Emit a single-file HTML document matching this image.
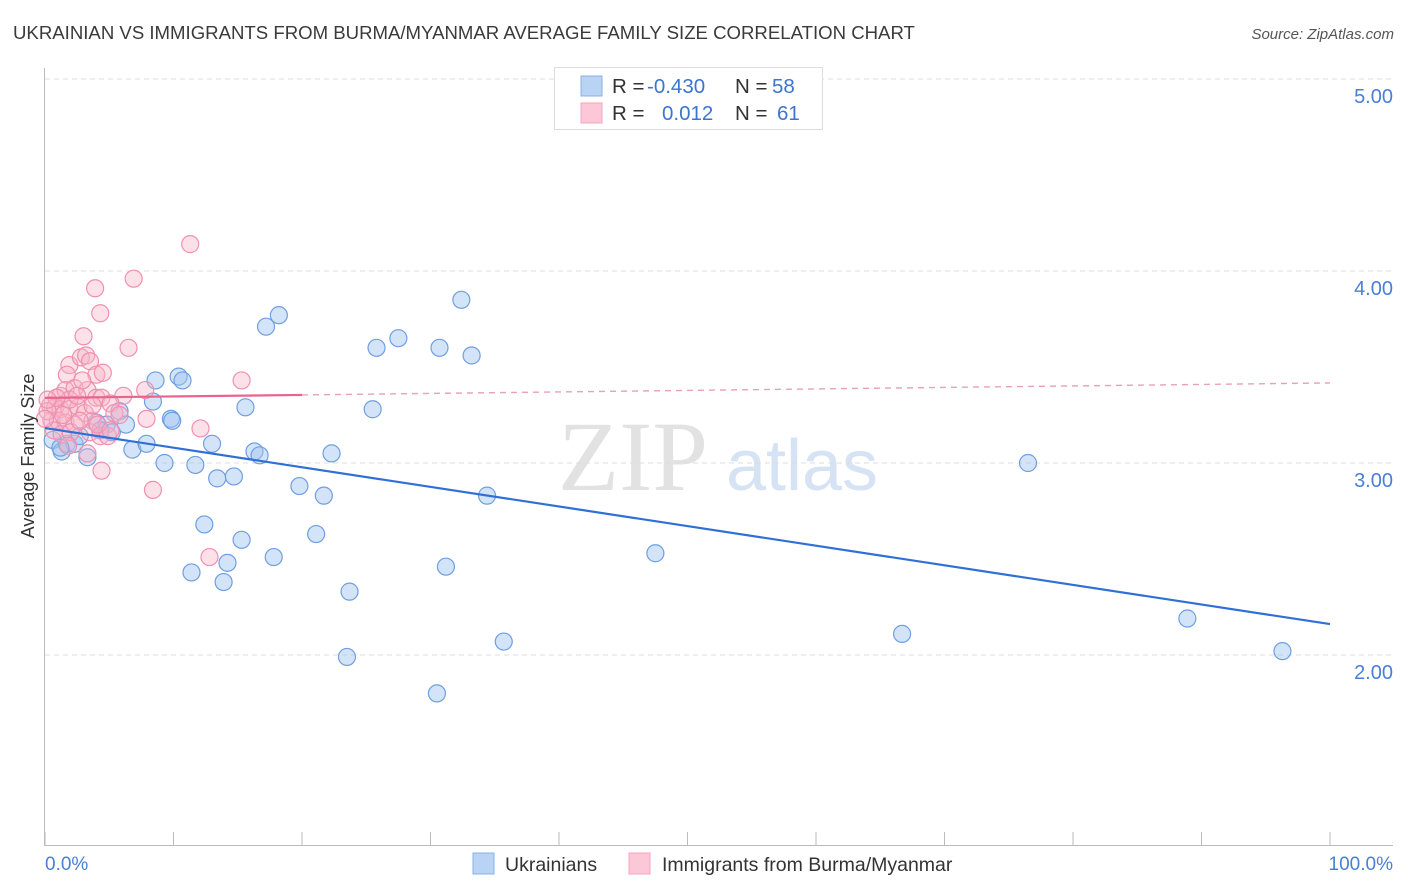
<!DOCTYPE html>
<html><head><meta charset="utf-8"><style>
body{margin:0;background:#fff;font-family:"Liberation Sans",sans-serif}
svg{display:block}
</style></head><body>
<svg width="1406" height="892" xmlns="http://www.w3.org/2000/svg">
<text x="13" y="39" font-size="18.6" fill="#3a3a3a">UKRAINIAN VS IMMIGRANTS FROM BURMA/MYANMAR AVERAGE FAMILY SIZE CORRELATION CHART</text>
<text x="1394" y="39" font-size="15" fill="#555" font-style="italic" text-anchor="end">Source: ZipAtlas.com</text>
<g>
<text x="633" y="490" font-family="Liberation Serif,serif" font-size="100" fill="#e2e2e2" text-anchor="middle">ZIP</text>
<text x="802" y="490" font-size="72" fill="#d5e3f5" text-anchor="middle">atlas</text>
</g>
<g id="grid"></g>
<g id="axes"></g>
<g id="pts"></g>
<g id="lines"></g>
<text transform="translate(34,456) rotate(-90)" font-size="18" fill="#333" text-anchor="middle">Average Family Size</text>
<text x="45" y="870" font-size="19" fill="#4a7fd4">0.0%</text>
<text x="1393" y="870" font-size="19" fill="#4a7fd4" text-anchor="end">100.0%</text>
<g>
<rect x="554.5" y="67.5" width="268" height="62" fill="#fff" stroke="#ddd"/>
<rect x="581" y="76" width="21" height="20" fill="#b9d3f5" stroke="#88b0e8"/>
<rect x="581" y="103" width="21" height="20" fill="#fcc8d8" stroke="#f4a3bd"/>
<text x="612" y="93" font-size="20.5" fill="#333">R =<tspan x="647" fill="#3a75d0">-0.430</tspan><tspan x="735">N =</tspan><tspan x="772" fill="#3a75d0">58</tspan></text>
<text x="612" y="120" font-size="20.5" fill="#333">R =<tspan x="662" fill="#3a75d0">0.012</tspan><tspan x="735">N =</tspan><tspan x="777" fill="#3a75d0">61</tspan></text>
</g>
<g>
<rect x="473" y="853" width="21" height="21" fill="#b9d3f5" stroke="#88b0e8"/>
<text x="505" y="871" font-size="19.5" fill="#333">Ukrainians</text></g>
<g>
<rect x="629" y="853" width="21" height="21" fill="#fcc8d8" stroke="#f4a3bd"/>
<text x="662" y="871" font-size="19.5" fill="#333">Immigrants from Burma/Myanmar</text></g>
</svg>
<script>
const yTicks=[2,3,4,5];
const yTickLabels=["2.00","3.00","4.00","5.00"];
const blueX=[0.6,1.3,1.7,2.3,2.7,3.3,4.0,4.8,5.2,5.8,6.3,6.8,7.9,8.4,8.6,9.3,9.8,10.4,10.7,11.7,12.4,13.0,13.4,13.9,14.2,14.7,15.3,15.6,16.3,16.7,17.2,17.8,18.2,19.8,21.1,21.7,22.3,23.7,23.5,25.5,25.8,27.5,30.5,30.7,31.2,32.4,33.2,34.4,35.7,47.5,66.7,76.5,88.9,96.3,11.4,9.9,1.2,4.3];
const blueY=[3.12,3.06,3.10,3.10,3.14,3.03,3.21,3.20,3.16,3.27,3.20,3.07,3.10,3.32,3.43,3.00,3.23,3.45,3.43,2.99,2.68,3.10,2.92,2.38,2.48,2.93,2.60,3.29,3.06,3.04,3.71,2.51,3.77,2.88,2.63,2.83,3.05,2.33,1.99,3.28,3.60,3.65,1.80,3.60,2.46,3.85,3.56,2.83,2.07,2.53,2.11,3.00,2.19,2.02,2.43,3.22,3.08,3.17];
const pinkX=[11.3,6.9,3.9,4.3,3.0,6.5,1.9,2.8,3.2,3.5,4.0,1.7,4.5,7.8,6.1,15.3,1.2,1.6,2.3,3.3,4.0,4.4,5.1,0.4,0.8,1.2,1.9,2.6,3.1,3.7,0.5,1.0,1.6,2.3,3.5,4.3,4.9,5.4,7.9,8.4,12.1,12.8,4.4,3.3,1.4,1.9,2.5,2.9,0.9,0.2,0.7,1.3,2.0,4.1,5.1,5.8,0.0,0.2,1.8,2.7,3.7];
const pinkY=[4.14,3.96,3.91,3.78,3.66,3.60,3.51,3.55,3.56,3.53,3.46,3.46,3.47,3.38,3.35,3.43,3.35,3.38,3.39,3.38,3.34,3.34,3.31,3.30,3.29,3.28,3.28,3.29,3.26,3.22,3.22,3.22,3.21,3.20,3.16,3.14,3.14,3.26,3.23,2.86,3.18,2.51,2.96,3.05,3.25,3.33,3.35,3.43,3.34,3.27,3.17,3.15,3.16,3.20,3.17,3.25,3.23,3.33,3.09,3.22,3.30];
const blueTrend=[3.182,2.161];
const pinkTrend=[3.339,3.417];
const pinkSolidEnd=20;
const NS="http://www.w3.org/2000/svg";
const sx=p=>45+p*12.85;
const sy=v=>79+(5-v)*192;
function mk(t,a,parent){const e=document.createElementNS(NS,t);for(const k in a)e.setAttribute(k,a[k]);parent.appendChild(e);return e;}
const grid=document.getElementById('grid'),axes=document.getElementById('axes'),pts=document.getElementById('pts'),lines=document.getElementById('lines');
yTicks.forEach((v,i)=>{
 const l=mk('line',{x1:45,x2:1393,y1:sy(v),y2:sy(v),stroke:'#ddd','stroke-dasharray':'5,4'},grid);
 
 
 const t=mk('text',{x:1393,y:sy(v)+24,'font-size':20,fill:'#4a7fd4','text-anchor':'end'},grid);
 t.textContent=yTickLabels[i];
 
 
});
mk('line',{x1:44.5,x2:44.5,y1:68,y2:845,stroke:'#bbb'},axes);
mk('line',{x1:44,x2:1393,y1:845.5,y2:845.5,stroke:'#bbb'},axes);
for(let i=0;i<=10;i++){const l=mk('line',{x1:sx(i*10),x2:sx(i*10),y1:832,y2:845,stroke:'#bbb'},axes);
 
 }
blueX.forEach((x,i)=>{const c=mk('circle',{cx:sx(x),cy:sy(blueY[i]),r:8.5,fill:'rgba(160,196,240,0.45)',stroke:'#6e9fe0','stroke-width':1.2},pts);
 
 });
pinkX.forEach((x,i)=>{const c=mk('circle',{cx:sx(x),cy:sy(pinkY[i]),r:8.5,fill:'rgba(248,180,200,0.4)',stroke:'#f090b0','stroke-width':1.2},pts);
 
 });
const bl=mk('line',{x1:sx(0),y1:sy(blueTrend[0]),x2:sx(100),y2:sy(blueTrend[1]),stroke:'#2f6fd6','stroke-width':2.2},lines);


const pAt=p=>pinkTrend[0]+(pinkTrend[1]-pinkTrend[0])*p/100;
const ps=mk('line',{x1:sx(0),y1:sy(pAt(0)),x2:sx(pinkSolidEnd),y2:sy(pAt(pinkSolidEnd)),stroke:'#e9638f','stroke-width':2.2},lines);


const pd=mk('line',{x1:sx(pinkSolidEnd),y1:sy(pAt(pinkSolidEnd)),x2:sx(100),y2:sy(pAt(100)),stroke:'#e9a0b8','stroke-width':1.4,'stroke-dasharray':'6,5'},lines);


</script>
</body></html>
